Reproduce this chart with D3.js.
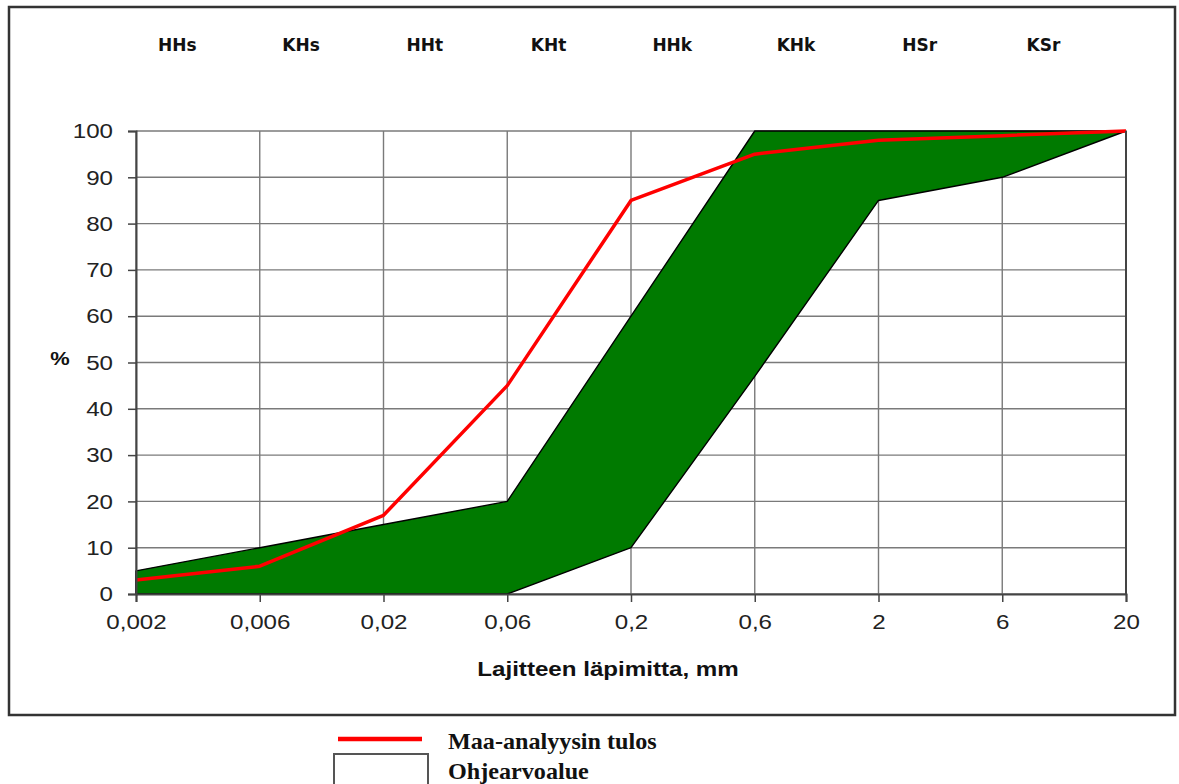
<!DOCTYPE html>
<html>
<head>
<meta charset="utf-8">
<script src="https://cdn.jsdelivr.net/npm/d3@7"></script>
<style>
  body { margin: 0; background: #fff; }
  svg { display: block; }
</style>
</head>
<body>
<svg id="chart" width="1179" height="784"></svg>
<script>
// grain sizes (mm) shown as evenly spaced categories
const sizes = ['0,002', '0,006', '0,02', '0,06', '0,2', '0,6', '2', '6', '20'];
// soil class labels across the top
const classes = ['HHs', 'KHs', 'HHt', 'KHt', 'HHk', 'KHk', 'HSr', 'KSr'];
// guideline band (Ohjearvoalue)
const bandLow = [0, 0, 0, 0, 10, 47, 85, 90, 100];
const bandHigh = [5, 10, 15, 20, 60, 100, 100, 100, 100];
// soil analysis result (Maa-analyysin tulos)
const result = [3, 6, 17, 45, 85, 95, 98, 99, 100];
const yTicks = [0, 10, 20, 30, 40, 50, 60, 70, 80, 90, 100];

const STRETCH = 1.15; // the source text is a bit wider than Arial
const svg = d3.select('#chart');

const x = d3.scalePoint().domain(sizes).range([136, 1126]);
const y = d3.scaleLinear().domain([0, 100]).range([594, 131]);
const step = x.step();

// outer frame
svg.append('rect')
    .attr('x', 9).attr('y', 7)
    .attr('width', 1166).attr('height', 708)
    .attr('fill', 'none')
    .attr('stroke', '#333')
    .attr('stroke-width', 2.5);

// grid
const grid = svg.append('g').attr('stroke', '#7a7a7a').attr('stroke-width', 1.4);
grid.selectAll('line.h')
    .data(yTicks)
    .join('line')
    .attr('x1', x(sizes[0])).attr('x2', x(sizes[sizes.length - 1]))
    .attr('y1', (d) => y(d)).attr('y2', (d) => y(d));
grid.selectAll('line.v')
    .data(sizes)
    .join('line')
    .attr('x1', (d) => x(d)).attr('x2', (d) => x(d))
    .attr('y1', y(100)).attr('y2', y(0));

// guideline band
const band = sizes.map((s, i) => ({ s, lo: bandLow[i], hi: bandHigh[i] }));
svg.append('path')
    .datum(band)
    .attr('fill', '#007a00')
    .attr('stroke', '#000')
    .attr('stroke-width', 1.4)
    .attr('stroke-linejoin', 'round')
    .attr('d', d3.area()
        .x((d) => x(d.s))
        .y0((d) => y(d.lo))
        .y1((d) => y(d.hi)));

// result line
svg.append('path')
    .datum(sizes.map((s, i) => ({ s, v: result[i] })))
    .attr('fill', 'none')
    .attr('stroke', '#ff0000')
    .attr('stroke-width', 3.5)
    .attr('stroke-linejoin', 'round')
    .attr('d', d3.line().x((d) => x(d.s)).y((d) => y(d.v)));

// axes
const yAxis = svg.append('g')
    .attr('transform', `translate(${x(sizes[0])},0)`)
    .call(d3.axisLeft(y).tickValues(yTicks).tickSize(8).tickPadding(13));
const xAxis = svg.append('g')
    .attr('transform', `translate(0,${y(0)})`)
    .call(d3.axisBottom(x).tickSize(8).tickPadding(12));

[yAxis, xAxis].forEach((g) => {
    g.select('.domain').attr('stroke', '#444').attr('stroke-width', 2);
    g.selectAll('.tick line').attr('stroke', '#444').attr('stroke-width', 1.5);
    g.selectAll('.tick text')
        .attr('fill', '#222')
        .style('font-family', '"Liberation Sans", Arial, sans-serif')
        .style('font-size', '21px');
});
xAxis.selectAll('.tick text').attr('transform', `scale(${STRETCH},1)`);
yAxis.selectAll('.tick text')
    .attr('x', -23 / STRETCH)
    .attr('transform', `scale(${STRETCH},1)`);

// right border of the plot area
svg.append('line')
    .attr('x1', x(sizes[sizes.length - 1])).attr('x2', x(sizes[sizes.length - 1]))
    .attr('y1', y(100)).attr('y2', y(0))
    .attr('stroke', '#444').attr('stroke-width', 2);

// class labels
svg.append('g')
    .selectAll('text')
    .data(classes)
    .join('text')
    .attr('transform', (d, i) => `translate(${x(sizes[i]) + step / 3},51)`)
    .attr('text-anchor', 'middle')
    .style('font-family', '"DejaVu Sans", Verdana, sans-serif')
    .style('font-weight', 'bold')
    .style('font-size', '17px')
    .attr('fill', '#111')
    .text((d) => d);

// axis titles
svg.append('text')
    .attr('transform', `translate(608,676) scale(${STRETCH},1)`)
    .attr('text-anchor', 'middle')
    .style('font-family', '"Liberation Sans", Arial, sans-serif')
    .style('font-weight', 'bold')
    .style('font-size', '21px')
    .attr('fill', '#111')
    .text('Lajitteen läpimitta, mm');
svg.append('text')
    .attr('transform', `translate(60,365) scale(${STRETCH},1)`)
    .attr('text-anchor', 'middle')
    .style('font-family', '"Liberation Sans", Arial, sans-serif')
    .style('font-weight', 'bold')
    .style('font-size', '19px')
    .attr('fill', '#111')
    .text('%');

// legend
const legend = svg.append('g');
legend.append('line')
    .attr('x1', 338).attr('x2', 422)
    .attr('y1', 739).attr('y2', 739)
    .attr('stroke', '#ff0000').attr('stroke-width', 4.5);
legend.append('rect')
    .attr('x', 334).attr('y', 754)
    .attr('width', 94).attr('height', 40)
    .attr('fill', '#fff')
    .attr('stroke', '#555').attr('stroke-width', 2);
legend.selectAll('text')
    .data(['Maa-analyysin tulos', 'Ohjearvoalue'])
    .join('text')
    .attr('transform', (d, i) => `translate(448,${749 + i * 30}) scale(1.05,1)`)
    .style('font-family', '"Liberation Serif", "Times New Roman", serif')
    .style('font-weight', 'bold')
    .style('font-size', '23px')
    .attr('fill', '#111')
    .text((d) => d);
</script>
</body>
</html>
